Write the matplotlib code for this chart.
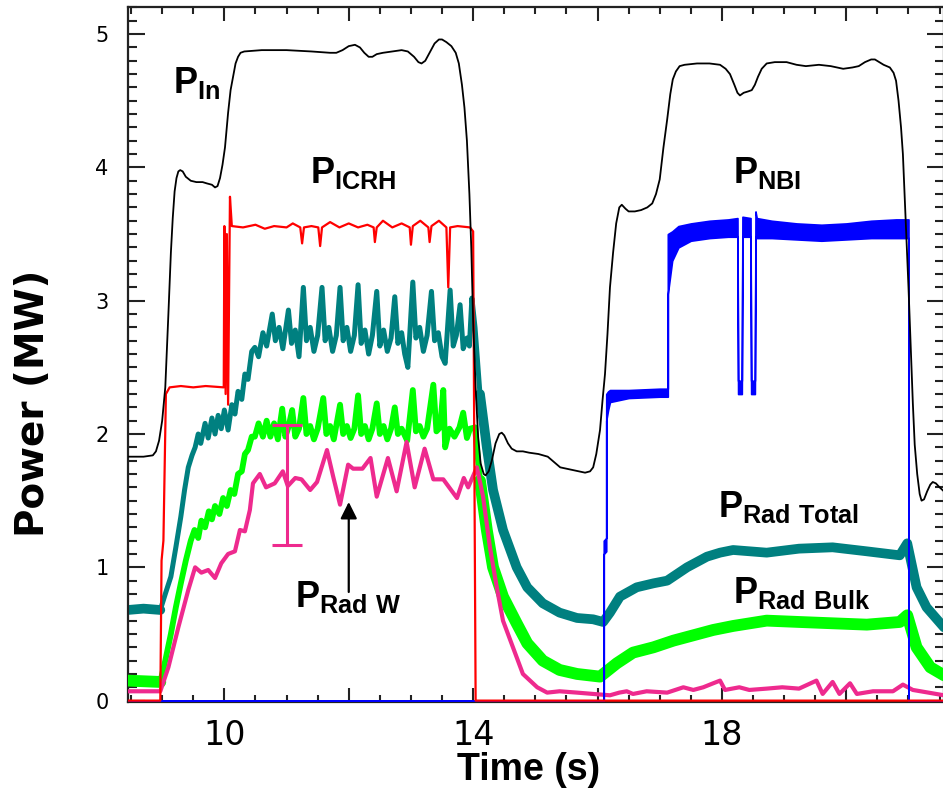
import numpy as np
import matplotlib.pyplot as plt
from matplotlib.ticker import MultipleLocator, FixedLocator, FixedFormatter

plt.rcParams['mathtext.fontset'] = 'custom'
plt.rcParams['mathtext.bf'] = 'Liberation Sans:bold'
plt.rcParams['mathtext.rm'] = 'Liberation Sans:bold'
plt.rcParams['font.family'] = 'DejaVu Sans'

TEAL = '#008080'
GREEN = '#00ff00'
PINK = '#ee2a8e'
RED = '#ff0000'
BLUE = '#0000ff'

# total input power
pin_t = [8.45, 8.70, 8.85, 8.90, 8.95, 9.00, 9.05, 9.10, 9.14, 9.17, 9.20, 9.23, 9.26,
         9.29, 9.33, 9.38, 9.46, 9.55, 9.65, 9.72, 9.80, 9.85, 9.89, 9.93, 9.97,
         10.01, 10.06, 10.10, 10.14, 10.18, 10.22, 10.26, 10.32, 10.60, 11.00, 11.40,
         11.70, 11.80, 11.90, 12.00, 12.10, 12.18, 12.25, 12.32, 12.38, 12.45, 12.55,
         12.70, 12.85, 12.95, 13.05, 13.12, 13.17, 13.23, 13.30, 13.38, 13.45, 13.50,
         13.57, 13.65, 13.72, 13.77, 13.82, 13.86, 13.90, 13.94, 13.97, 14.00, 14.04,
         14.08, 14.12, 14.17, 14.20, 14.25, 14.30, 14.36, 14.42, 14.46, 14.50, 14.56,
         14.62, 14.70, 14.80, 14.90, 15.05, 15.20, 15.30, 15.40, 15.50, 15.60, 15.70,
         15.80, 15.88, 15.93, 15.98, 16.04, 16.08, 16.12, 16.16, 16.20, 16.25, 16.30,
         16.35, 16.39, 16.45, 16.50, 16.60, 16.70, 16.80, 16.88, 16.94, 17.00, 17.06,
         17.12, 17.17, 17.21, 17.26, 17.32, 17.40, 17.60, 17.80, 17.97, 18.06, 18.13,
         18.20, 18.25, 18.29, 18.35, 18.42, 18.48, 18.53, 18.58, 18.64, 18.72, 18.85,
         19.04, 19.20, 19.35, 19.56, 19.75, 19.95, 20.10, 20.20, 20.30, 20.40, 20.46,
         20.53, 20.60, 20.70, 20.76, 20.80, 20.84, 20.88, 20.91, 20.95, 21.00, 21.04,
         21.07, 21.10, 21.14, 21.18, 21.21, 21.25, 21.30, 21.35, 21.39, 21.44, 21.50,
         21.57]
pin_v = [1.83, 1.83, 1.84, 1.87, 1.95, 2.10, 2.35, 2.90, 3.36, 3.62, 3.82, 3.92, 3.97,
         3.98, 3.97, 3.93, 3.90, 3.89, 3.89, 3.88, 3.87, 3.85, 3.86, 3.92, 4.02,
         4.15, 4.41, 4.58, 4.68, 4.78, 4.83, 4.86, 4.87, 4.88, 4.88, 4.87,
         4.86, 4.86, 4.88, 4.91, 4.92, 4.90, 4.86, 4.83, 4.83, 4.85, 4.86,
         4.87, 4.88, 4.87, 4.83, 4.79, 4.78, 4.80, 4.86, 4.93, 4.96, 4.96,
         4.94, 4.91, 4.86, 4.78, 4.62, 4.45, 4.20, 3.80, 3.40, 2.85, 2.35,
         1.98, 1.78, 1.70, 1.69, 1.72, 1.80, 1.93, 2.00, 2.01, 1.99, 1.93,
         1.89, 1.87, 1.87, 1.86, 1.85, 1.83, 1.79, 1.75, 1.74, 1.73, 1.72,
         1.71, 1.72, 1.75, 1.85, 2.03, 2.25, 2.45, 2.75, 3.10, 3.36, 3.58,
         3.70, 3.72, 3.69, 3.67, 3.67, 3.68, 3.70, 3.73, 3.80, 3.91, 4.15,
         4.36, 4.55, 4.66, 4.72, 4.76, 4.77, 4.78, 4.78, 4.77, 4.74, 4.70,
         4.62, 4.56, 4.54, 4.56, 4.57, 4.58, 4.62, 4.68, 4.74, 4.78, 4.79,
         4.79, 4.77, 4.76, 4.77, 4.76, 4.74, 4.75, 4.76, 4.79, 4.81, 4.81,
         4.79, 4.77, 4.75, 4.71, 4.65, 4.50, 4.30, 4.10, 3.65, 3.10, 2.60,
         2.23, 1.92, 1.70, 1.55, 1.50, 1.51, 1.57, 1.62, 1.64, 1.63, 1.60,
         1.57]

# ICRH power
icrh_t = [8.45, 8.97, 8.99, 9.02, 9.06, 9.12, 9.30, 9.50, 9.70, 9.99, 10.00, 10.02,
          10.04, 10.06, 10.09, 10.12, 10.30, 10.50, 10.65, 10.80, 11.00, 11.10, 11.22,
          11.25, 11.28, 11.40, 11.51, 11.54, 11.57, 11.70, 11.85, 12.00, 12.15, 12.30,
          12.40, 12.42, 12.45, 12.55, 12.70, 12.85, 12.98, 13.00, 13.03, 13.15, 13.28,
          13.30, 13.33, 13.45, 13.57, 13.60, 13.63, 13.75, 13.95, 14.00, 14.04, 21.57]
icrh_v = [0.0, 0.0, 1.05, 1.20, 2.30, 2.35, 2.36, 2.35, 2.36, 2.35, 3.56, 2.30,
          3.50, 2.22, 3.78, 3.56, 3.55, 3.57, 3.54, 3.56, 3.55, 3.58, 3.55,
          3.43, 3.55, 3.56, 3.55, 3.41, 3.55, 3.59, 3.55, 3.58, 3.55, 3.57,
          3.55, 3.44, 3.55, 3.60, 3.55, 3.58, 3.55, 3.42, 3.56, 3.60, 3.55,
          3.44, 3.56, 3.60, 3.55, 3.10, 3.55, 3.56, 3.55, 3.52, 0.0, 0.0]

# NBI power (band drawn between lower and upper envelope)
nbi_t = [8.45, 16.10, 16.10, 16.14, 16.14, 16.17, 16.20, 16.50, 17.00, 17.13, 17.13,
         17.20, 17.30, 17.50, 17.80, 18.10, 18.25, 18.26, 18.32, 18.33, 18.46, 18.47,
         18.53, 18.54, 18.56, 18.80, 19.20, 19.60, 20.00, 20.40, 20.80, 21.00, 21.00, 21.57]
nbi_lo = [0.0, 0.0, 1.10, 1.12, 2.10, 2.18, 2.24, 2.27, 2.28, 2.28, 3.05,
          3.30, 3.40, 3.45, 3.47, 3.48, 3.48, 2.30, 2.30, 3.48, 3.48, 2.30,
          2.30, 3.48, 3.47, 3.47, 3.46, 3.45, 3.46, 3.47, 3.47, 3.47, 0.0, 0.0]
nbi_hi = [0.0, 0.0, 1.20, 1.22, 2.30, 2.32, 2.33, 2.33, 2.34, 2.34, 3.50,
          3.52, 3.56, 3.58, 3.60, 3.61, 3.62, 2.40, 2.40, 3.63, 3.62, 2.40,
          2.40, 3.67, 3.62, 3.60, 3.58, 3.57, 3.58, 3.60, 3.61, 3.61, 0.0, 0.0]

# total radiated power
rtot_t = [8.45, 8.70, 8.97, 9.05, 9.14, 9.22, 9.30, 9.36, 9.42, 9.48, 9.53, 9.58,
          9.62, 9.69, 9.74, 9.80, 9.85, 9.90, 9.95, 10.00, 10.06, 10.12, 10.17,
          10.22, 10.28, 10.33, 10.38, 10.44, 10.49, 10.55, 10.62, 10.68, 10.77,
          10.82, 10.88, 10.94, 11.03, 11.08, 11.14, 11.20, 11.27, 11.32, 11.38,
          11.44, 11.50, 11.57, 11.62, 11.68, 11.74, 11.80, 11.86, 11.91, 11.97,
          12.03, 12.09, 12.15, 12.20, 12.26, 12.32, 12.38, 12.45, 12.50, 12.56,
          12.62, 12.68, 12.74, 12.79, 12.85, 12.90, 12.95, 13.03, 13.08, 13.14,
          13.20, 13.26, 13.33, 13.38, 13.44, 13.50, 13.55, 13.63, 13.68, 13.73,
          13.79, 13.84, 13.90, 13.94, 13.98, 14.03, 14.11, 14.22, 14.32, 14.48,
          14.70, 14.87, 15.12, 15.39, 15.67, 15.93, 16.09, 16.20, 16.36, 16.63,
          16.90, 17.12, 17.44, 17.76, 17.97, 18.18, 18.72,
          19.24, 19.78, 20.33, 20.86, 20.98, 21.13, 21.29, 21.57]
rtot_v = [0.68, 0.69, 0.68, 0.80, 0.93, 1.15, 1.38, 1.58, 1.75, 1.84, 1.90, 2.00,
          1.93, 2.08, 1.97, 2.12, 2.00, 2.14, 2.04, 2.18, 2.03, 2.22, 2.15,
          2.32, 2.26, 2.45, 2.41, 2.62, 2.65, 2.58, 2.76, 2.66, 2.90,
          2.70, 2.80, 2.64, 2.93, 2.68, 2.78, 2.58, 3.10, 2.70, 2.80,
          2.62, 2.74, 3.10, 2.70, 2.80, 2.62, 2.74, 3.10, 2.70, 2.80,
          2.62, 2.74, 3.12, 2.68, 2.78, 2.60, 2.74, 3.07, 2.66, 2.78,
          2.62, 2.72, 3.03, 2.68, 2.76, 2.60, 2.50, 3.14, 2.72, 2.80,
          2.62, 2.74, 3.07, 2.70, 2.76, 2.58, 2.53, 3.08, 2.66, 2.74,
          2.97, 2.64, 2.72, 2.66, 3.02, 2.80, 2.30, 1.90, 1.58, 1.28,
          1.00, 0.85, 0.73, 0.66, 0.62, 0.61, 0.59, 0.66, 0.78, 0.85,
          0.88, 0.90, 1.00, 1.08, 1.11, 1.13, 1.11,
          1.14, 1.15, 1.12, 1.09, 1.18, 0.85, 0.70, 0.55]

# bulk radiated power
rbulk_t = [8.45, 8.97, 9.05, 9.14, 9.22, 9.30, 9.38, 9.46, 9.52, 9.58, 9.63, 9.69,
           9.75, 9.80, 9.85, 9.92, 9.98, 10.04, 10.10, 10.16, 10.22, 10.28, 10.33,
           10.38, 10.44, 10.49, 10.55, 10.62, 10.68, 10.74, 10.80, 10.86, 10.93,
           10.98, 11.03, 11.09, 11.14, 11.20, 11.27, 11.32, 11.38, 11.44, 11.50,
           11.59, 11.64, 11.70, 11.76, 11.86, 11.91, 11.97, 12.03, 12.09, 12.15,
           12.20, 12.26, 12.32, 12.38, 12.45, 12.50, 12.56, 12.62, 12.68, 12.74,
           12.79, 12.85, 12.94, 13.03, 13.08, 13.14, 13.20, 13.26, 13.36, 13.41,
           13.47, 13.52, 13.55, 13.62, 13.70, 13.78, 13.84, 13.90, 13.95, 14.03,
           14.11, 14.22, 14.32, 14.48, 14.70, 14.87, 15.12, 15.39, 15.67, 16.04,
           16.31, 16.57, 16.90, 17.22, 17.54, 17.86, 18.18, 18.72, 19.24, 19.78,
           20.33, 20.86, 20.98, 21.13, 21.35, 21.57]
rbulk_v = [0.15, 0.14, 0.30, 0.50, 0.70, 0.88, 1.05, 1.20, 1.28, 1.22, 1.35, 1.30,
           1.42, 1.36, 1.46, 1.40, 1.52, 1.46, 1.58, 1.55, 1.70, 1.72, 1.85,
           1.88, 1.98, 1.98, 2.08, 1.98, 2.10, 1.98, 2.08, 1.96, 2.19,
           1.98, 2.05, 2.18, 1.98, 2.04, 2.27, 2.00, 2.06, 1.96, 2.04,
           2.27, 2.00, 2.06, 1.96, 2.22, 2.00, 2.06, 1.97, 2.04, 2.29,
           2.00, 2.06, 1.96, 2.04, 2.23, 2.00, 2.06, 1.96, 2.04, 2.20,
           2.00, 2.04, 1.95, 2.33, 2.02, 2.06, 1.98, 2.04, 2.37, 2.02,
           2.05, 2.33, 1.90, 2.04, 1.98, 2.05, 2.16, 1.97, 2.04, 2.05,
           1.65, 1.28, 1.00, 0.78, 0.58, 0.43, 0.30, 0.23, 0.20, 0.18,
           0.28, 0.36, 0.40, 0.45, 0.49, 0.53, 0.56, 0.60, 0.59, 0.58,
           0.57, 0.59, 0.64, 0.40, 0.25, 0.19]

# tungsten radiated power
rw_t = [8.45, 8.97, 9.10, 9.26, 9.42, 9.53, 9.63, 9.74, 9.85, 9.95, 10.06, 10.17,
        10.25, 10.33, 10.41, 10.46, 10.57, 10.67, 10.81, 10.94, 11.02, 11.14, 11.24,
        11.38, 11.49, 11.65, 11.75, 11.86, 11.99, 12.07, 12.22, 12.35, 12.45, 12.63,
        12.77, 12.93, 13.06, 13.22, 13.36, 13.52, 13.74, 13.85, 13.92, 14.06, 14.16,
        14.27, 14.38, 14.48, 14.64, 14.80, 15.03, 15.19, 15.39, 15.67, 15.93, 16.20,
        16.35, 16.47, 16.57, 16.79, 17.12, 17.38, 17.54, 17.70, 17.86, 17.97, 18.05,
        18.28, 18.44, 18.72, 18.97, 19.24, 19.52, 19.62, 19.78, 19.89, 20.06, 20.17,
        20.43, 20.75, 20.91, 21.07, 21.57]
rw_v = [0.07, 0.07, 0.25, 0.55, 0.83, 1.00, 0.96, 0.98, 0.92, 1.03, 1.10, 1.12,
        1.28, 1.27, 1.43, 1.63, 1.70, 1.60, 1.63, 1.72, 1.61, 1.67, 1.66,
        1.58, 1.64, 1.88, 1.68, 1.47, 1.77, 1.74, 1.74, 1.82, 1.53, 1.82,
        1.57, 1.94, 1.60, 1.89, 1.66, 1.66, 1.52, 1.67, 1.60, 1.75, 1.53,
        1.15, 0.85, 0.60, 0.40, 0.20, 0.10, 0.06, 0.07, 0.06, 0.05, 0.04,
        0.06, 0.07, 0.05, 0.07, 0.06, 0.10, 0.08, 0.10, 0.13, 0.15, 0.08,
        0.10, 0.08, 0.09, 0.10, 0.09, 0.15, 0.05, 0.14, 0.05, 0.13, 0.05,
        0.07, 0.07, 0.12, 0.08, 0.04]

# uncertainty on the tungsten radiation
err_t = 11.01
err_v = 1.62
err_dv = 0.45


def noisy_part(t, v, t_lo=9.0, t_hi=14.05):
    # the quiet phases (before ICRH, after 14 s) carry a broad noise band
    t = np.asarray(t)
    v = np.asarray(v, dtype=float)
    return np.where((t <= t_lo) | (t >= t_hi), v, np.nan)


fig = plt.figure(figsize=(9.43, 7.98), dpi=100)
ax = fig.add_axes([0.1357, 0.1197, 0.8653, 0.8716])

ax.plot(rtot_t, rtot_v, color=TEAL, lw=3.6, zorder=2)
ax.plot(rtot_t, noisy_part(rtot_t, rtot_v), color=TEAL, lw=7, zorder=2,
        solid_capstyle='round')
ax.plot(rbulk_t, rbulk_v, color=GREEN, lw=4.2, zorder=3)
ax.plot(rbulk_t, noisy_part(rbulk_t, rbulk_v), color=GREEN, lw=8.5, zorder=3,
        solid_capstyle='round')
ax.plot(rw_t, rw_v, color=PINK, lw=3.0, zorder=4)
ax.fill_between(nbi_t, nbi_lo, nbi_hi, facecolor=BLUE, edgecolor=BLUE, lw=1.2, zorder=5)
ax.plot(icrh_t, icrh_v, color=RED, lw=1.6, zorder=6)
ax.plot(pin_t, pin_v, color='black', lw=1.3, zorder=7)

ax.errorbar(err_t, err_v, yerr=err_dv, color=PINK, lw=2.2, capsize=11,
            capthick=2.2, zorder=8)
ax.annotate('', xy=(12.0, 1.49), xytext=(12.0, 0.815),
            arrowprops=dict(arrowstyle='-|>', color='black', lw=1.6,
                            mutation_scale=25, shrinkA=0, shrinkB=0), zorder=9)

labels = [
    (9.175, 4.56, r'$\mathbf{P}_{\mathbf{In}}$'),
    (11.38, 3.88, r'$\mathbf{P}_{\mathbf{ICRH}}$'),
    (18.18, 3.88, r'$\mathbf{P}_{\mathbf{NBI}}$'),
    (17.94, 1.38, r'$\mathbf{P}_{\mathbf{Rad\ Total}}$'),
    (18.18, 0.73, r'$\mathbf{P}_{\mathbf{Rad\ Bulk}}$'),
    (11.135, 0.70, r'$\mathbf{P}_{\mathbf{Rad\ W}}$'),
]
for x, y, s in labels:
    ax.text(x, y, s, fontsize=26, ha='left', va='baseline', zorder=10)

ax.set_xlim(8.45, 21.57)
ax.set_ylim(-0.014, 5.204)

ax.xaxis.set_major_locator(FixedLocator([10, 12, 14, 16, 18, 20]))
ax.xaxis.set_major_formatter(FixedFormatter(['10', '', '14', '', '18', '']))
ax.xaxis.set_minor_locator(MultipleLocator(0.5))
ax.yaxis.set_major_locator(MultipleLocator(1))
ax.yaxis.set_minor_locator(MultipleLocator(0.1))

ax.tick_params(which='both', direction='in', top=True, right=True, width=1.5,
               color='#222222')
ax.tick_params(axis='x', which='major', length=10, labelsize=24, pad=12)
ax.tick_params(axis='x', which='minor', length=5)
ax.tick_params(axis='y', which='major', length=12, labelsize=15, pad=14)
ax.tick_params(axis='y', which='minor', length=6.5)
for sp in ax.spines.values():
    sp.set_linewidth(1.6)
    sp.set_color('#222222')

ax.set_xlabel('Time (s)', fontsize=27, fontweight='bold', family='Liberation Sans',
              va='center')
ax.xaxis.set_label_coords(0.491, -0.097)
ax.set_ylabel('Power (MW)', fontsize=28, fontweight='bold', family='DejaVu Sans',
              va='center')
ax.yaxis.set_label_coords(-0.1164, 0.4306)

fig.savefig('out.png', dpi=100)
